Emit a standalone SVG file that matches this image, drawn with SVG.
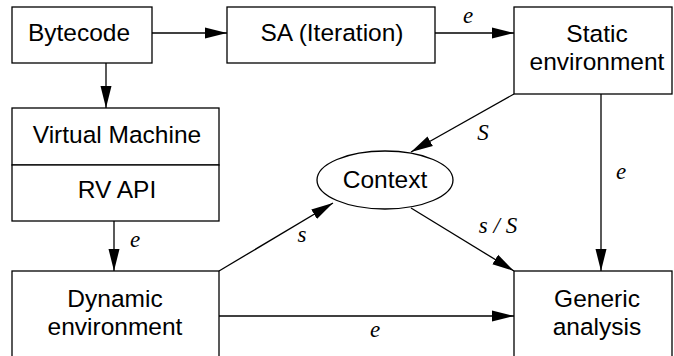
<svg xmlns="http://www.w3.org/2000/svg" width="674" height="356" viewBox="0 0 674 356">
<style>
.box{fill:#fff;stroke:#000;stroke-width:1.3}
.lbl{font-family:"Liberation Sans",Arial,sans-serif;font-size:24.5px;text-anchor:middle;fill:#000}
.el{font-family:"Liberation Serif","Times New Roman",serif;font-style:italic;font-size:23px;text-anchor:middle;fill:#000}
.c{stroke:#000;stroke-width:1.3;fill:none;marker-end:url(#ah)}
</style>
<defs>
<marker id="ah" markerWidth="22" markerHeight="12" refX="22" refY="6" orient="auto" markerUnits="userSpaceOnUse">
<path d="M0,0.5 L22,6 L0,11.5 z" fill="#000"/>
</marker>
</defs>
<rect width="674" height="356" fill="#fff"/>
<g id="connectors">
<line class="c" x1="152" y1="33" x2="227" y2="33"/>
<line class="c" x1="435" y1="33" x2="514" y2="33"/>
<line class="c" x1="106" y1="63" x2="106" y2="108"/>
<line class="c" x1="514" y1="94" x2="411" y2="152"/>
<line class="c" x1="601" y1="94" x2="601" y2="271"/>
<line class="c" x1="114" y1="221" x2="114" y2="271"/>
<line class="c" x1="219" y1="271" x2="333" y2="203"/>
<line class="c" x1="411" y1="208" x2="514" y2="271"/>
<line class="c" x1="219" y1="316" x2="514" y2="316"/>
<text class="el" x="468" y="23">e</text>
<text class="el" x="483" y="140">S</text>
<text class="el" x="621" y="179">e</text>
<text class="el" x="135" y="247">e</text>
<text class="el" x="302" y="242">s</text>
<text class="el" x="498" y="233">s / S</text>
<text class="el" x="375" y="337">e</text>
</g>
<g id="bytecode">
<rect class="box" x="12" y="7" width="140" height="56"/>
<text class="lbl" x="79" y="41">Bytecode</text>
</g>
<g id="sa">
<rect class="box" x="227" y="7" width="208" height="56"/>
<text class="lbl" x="332" y="41">SA (Iteration)</text>
</g>
<g id="static">
<rect class="box" x="514" y="7" width="158" height="87"/>
<text class="lbl" x="597" y="42">Static</text>
<text class="lbl" x="597" y="70">environment</text>
</g>
<g id="vm">
<rect class="box" x="12" y="108" width="207" height="57"/>
<text class="lbl" x="117" y="143">Virtual Machine</text>
</g>
<g id="rvapi">
<rect class="box" x="12" y="165" width="207" height="56"/>
<text class="lbl" x="117" y="198">RV API</text>
</g>
<g id="context">
<ellipse class="box" cx="385" cy="180" rx="68" ry="29"/>
<text class="lbl" x="385" y="188">Context</text>
</g>
<g id="dynamic">
<rect class="box" x="12" y="271" width="207" height="100"/>
<text class="lbl" x="115" y="307">Dynamic</text>
<text class="lbl" x="115" y="335">environment</text>
</g>
<g id="generic">
<rect class="box" x="514" y="271" width="158" height="100"/>
<text class="lbl" x="597" y="307">Generic</text>
<text class="lbl" x="597" y="335">analysis</text>
</g>
</svg>
